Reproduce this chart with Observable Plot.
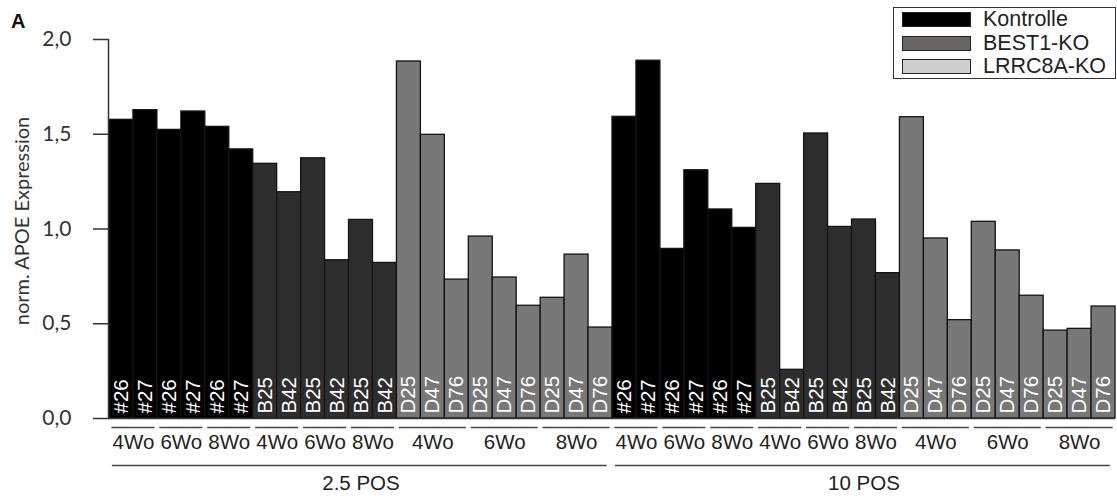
<!DOCTYPE html>
<html>
<head>
<meta charset="utf-8">
<script src="https://cdn.jsdelivr.net/npm/d3@7"></script>
<script src="https://cdn.jsdelivr.net/npm/@observablehq/plot@0.6"></script>
<style>
  body { margin: 0; background: #fff; }
  #wrap { position: relative; width: 1117px; height: 500px; }
  #panel { position: absolute; left: 11px; top: 10px; font: bold 20px "Liberation Sans", Arial, sans-serif; color: #111; }
  #legend { position: absolute; left: 893px; top: 7px; width: 221px; height: 70px; border: 1.5px solid #333; background: #fff;
            font: 21.5px "Liberation Sans", Arial, sans-serif; color: #222; }
  .row { position: absolute; left: 8px; height: 17px; }
  .sw { position: absolute; left: 0; top: 0; width: 67px; height: 13px; border: 1.5px solid #222; }
  .lab { position: absolute; left: 81px; top: -4px; white-space: nowrap; line-height: 22px; }
</style>
</head>
<body>
<div id="wrap"><div id="panel">A</div><div id="legend"></div></div>
<script>
// ---- data ----
const phases = ["2.5 POS", "10 POS"];
const weeks = ["4Wo", "6Wo", "8Wo"];
const groups = ["Kontrolle", "BEST1-KO", "LRRC8A-KO"];
const clonesKontrolle = ["#26", "#27"];
const clonesBest1 = ["B25", "B42"];
const clonesLrrc8a = ["D25", "D47", "D76"];

// values per week, clones in order
const pos25Kontrolle = [1.576, 1.627, 1.523, 1.620, 1.539, 1.420];
const pos25Best1     = [1.344, 1.194, 1.373, 0.835, 1.048, 0.821];
const pos25Lrrc8a    = [1.884, 1.497, 0.733, 0.960, 0.744, 0.595, 0.637, 0.865, 0.480];
const pos10Kontrolle = [1.592, 1.888, 0.895, 1.310, 1.103, 1.006];
const pos10Best1     = [1.238, 0.257, 1.504, 1.011, 1.050, 0.767];
const pos10Lrrc8a    = [1.590, 0.950, 0.519, 1.038, 0.887, 0.648, 0.464, 0.473, 0.591];

const yTicks = [0, 0.5, 1, 1.5, 2];
const barColors = ["#000000", "#2e2e2e", "#787878"];
const legendColors = ["#000000", "#696565", "#cfcfcf"];

// ---- build table ----
const cloneLists = {"Kontrolle": clonesKontrolle, "BEST1-KO": clonesBest1, "LRRC8A-KO": clonesLrrc8a};
const valueTable = {
  "2.5 POS": {"Kontrolle": pos25Kontrolle, "BEST1-KO": pos25Best1, "LRRC8A-KO": pos25Lrrc8a},
  "10 POS": {"Kontrolle": pos10Kontrolle, "BEST1-KO": pos10Best1, "LRRC8A-KO": pos10Lrrc8a}
};
const bars = [], weekSpans = [], phaseSpans = [];
let idx = 0;
for (const phase of phases) {
  const pStart = idx;
  for (const g of groups) {
    const clones = cloneLists[g];
    const vals = valueTable[phase][g];
    let k = 0;
    for (const w of weeks) {
      const wStart = idx;
      for (const c of clones) {
        bars.push({phase, group: g, week: w, clone: c, value: vals[k++], i: idx++});
      }
      weekSpans.push({week: w, start: wStart, end: idx});
    }
  }
  phaseSpans.push({phase, start: pStart, end: idx});
}

const fmt = d => d.toFixed(1).replace(".", ",");

const chart = Plot.plot({
  width: 1117,
  height: 500,
  marginLeft: 109,
  marginRight: 2,
  marginTop: 39,
  marginBottom: 82,
  style: {fontFamily: "'Liberation Sans', Arial, sans-serif", fontSize: "20px", background: "white", overflow: "visible"},
  x: {domain: [0, bars.length], axis: null},
  y: {domain: [0, 2]},
  color: {domain: groups, range: barColors},
  marks: [
    Plot.rectY(bars, {x1: d => d.i, x2: d => d.i + 1, y: "value", fill: "group", stroke: "#141414", strokeWidth: 1.3}),
    Plot.text(bars, {x: d => d.i + 0.5, y: 0, text: "clone", rotate: -90, textAnchor: "start", lineAnchor: "middle",
                     dy: -5, fill: "white", fontSize: 20.5}),
    Plot.ruleY([0], {stroke: "#333", strokeWidth: 1.5}),
    Plot.ruleX([0], {y1: 0, y2: 2, stroke: "#333", strokeWidth: 1.5, dx: -1}),
    Plot.axisY({ticks: yTicks, tickSize: 16, tickPadding: 22, tickFormat: fmt, label: null,
                fontSize: 21, fontFamily: "Lato, sans-serif", color: "#333", strokeWidth: 1.5}),
    Plot.text(["norm. APOE Expression"], {text: d => d, frameAnchor: "left", textAnchor: "middle", rotate: -90, dx: -87, dy: -8,
                fontSize: 20, fontFamily: "Lato, sans-serif", fill: "#333"}),
    Plot.ruleY(weekSpans, {x1: d => d.start + 0.1, x2: d => d.end - 0.1, y: 0, dy: 9, stroke: "#444", strokeWidth: 1.5}),
    Plot.text(weekSpans, {x: d => (d.start + d.end) / 2, y: 0, text: "week", dy: 24, fontSize: 20.5, fill: "#222"}),
    Plot.ruleY(phaseSpans, {x1: d => d.start + 0.12, x2: d => d.end - 0.22, y: 0, dy: 47, stroke: "#444", strokeWidth: 1.5}),
    Plot.text(phaseSpans, {x: d => (d.start + d.end) / 2, y: 0, text: "phase", dy: 65, fontSize: 20.5, fill: "#222"})
  ]
});
const wrap = document.getElementById("wrap");
wrap.insertBefore(chart, wrap.firstChild);

// legend
const legend = document.getElementById("legend");
groups.forEach((g, j) => {
  const row = document.createElement("div");
  row.className = "row";
  row.style.top = (4 + j * 23.5) + "px";
  const sw = document.createElement("div");
  sw.className = "sw";
  sw.style.background = legendColors[j];
  const lab = document.createElement("div");
  lab.className = "lab";
  lab.textContent = g;
  row.appendChild(sw); row.appendChild(lab);
  legend.appendChild(row);
});
</script>
</body>
</html>
